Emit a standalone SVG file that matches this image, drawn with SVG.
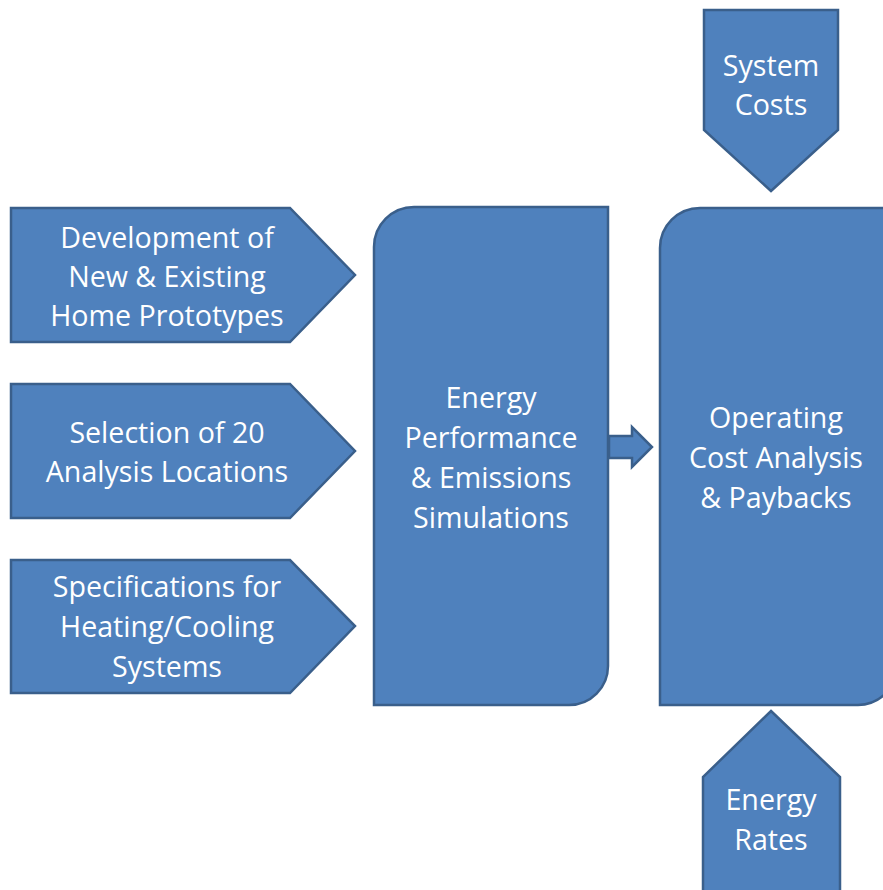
<svg xmlns="http://www.w3.org/2000/svg" width="883" height="890" viewBox="0 0 883 890">
<style>
.shape{fill:#4F81BD;stroke:#3A5F8B;stroke-width:2.5;stroke-linejoin:miter}
.t{font-family:"Open Sans","Liberation Sans",sans-serif;font-size:28.6px;fill:#FFFFFF;text-anchor:middle}
</style>
<rect width="883" height="890" fill="#FFFFFF"/>
<g id="node-development">
<polygon class="shape" points="11,208 290,208 355,275 290,342 11,342"/>
<text class="t" x="167" y="248">Development of</text>
<text class="t" x="167" y="287">New &amp; Existing</text>
<text class="t" x="167" y="326">Home Prototypes</text>
</g>
<g id="node-selection">
<polygon class="shape" points="11,384 290,384 355,451 290,518 11,518"/>
<text class="t" x="167" y="443">Selection of 20</text>
<text class="t" x="167" y="482">Analysis Locations</text>
</g>
<g id="node-specifications">
<polygon class="shape" points="11,560 290,560 355,626 290,693 11,693"/>
<text class="t" x="167" y="597">Specifications for</text>
<text class="t" x="167" y="637">Heating/Cooling</text>
<text class="t" x="167" y="677">Systems</text>
</g>
<g id="node-simulations">
<path class="shape" d="M414,207 L608,207 L608,666 A39,39 0 0 1 569,705 L374,705 L374,247 A40,40 0 0 1 414,207 Z"/>
<text class="t" x="491" y="408">Energy</text>
<text class="t" x="491" y="448">Performance</text>
<text class="t" x="491" y="488">&amp; Emissions</text>
<text class="t" x="491" y="528">Simulations</text>
</g>
<g id="node-operating">
<path class="shape" d="M700,208 L897,208 L897,666 A39,39 0 0 1 858,705 L660,705 L660,248 A40,40 0 0 1 700,208 Z"/>
<text class="t" x="776" y="428">Operating</text>
<text class="t" x="776" y="468">Cost Analysis</text>
<text class="t" x="776" y="508">&amp; Paybacks</text>
</g>
<g id="node-system-costs">
<polygon class="shape" points="704,10 838,10 838,130 771,191 704,130"/>
<text class="t" x="771" y="76">System</text>
<text class="t" x="771" y="115">Costs</text>
</g>
<g id="node-energy-rates">
<polygon class="shape" points="771,711 840,777 840,900 703,900 703,777"/>
<text class="t" x="771" y="810">Energy</text>
<text class="t" x="771" y="850">Rates</text>
</g>
<g id="connectors">
<polygon class="shape" points="609,436 632,436 632,427 652,447 632,467 632,458 609,458"/>
</g>
</svg>
